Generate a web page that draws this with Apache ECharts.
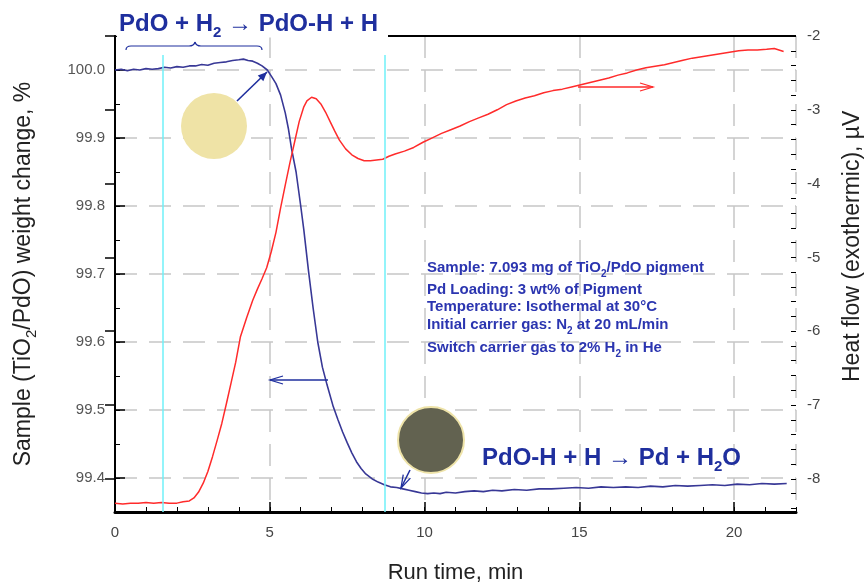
<!DOCTYPE html>
<html>
<head>
<meta charset="utf-8">
<script src="https://cdn.jsdelivr.net/npm/echarts@6/dist/echarts.min.js"></script>
<style>
  html, body { margin: 0; padding: 0; background: #fff; }
  #chart { width: 865px; height: 583px; }
</style>
</head>
<body>
<div id="chart"></div>
<script>
// axis ranges
const timeRange = [0, 22];
const weightRange = [99.35, 100.05];
const heatRange = [-8.45, -2];

// sample weight change, % (left axis)
const weightTime = [0, 0.2, 0.4, 0.6, 0.8, 1.0, 1.2, 1.4, 1.6, 1.8, 2.0, 2.2, 2.4, 2.6, 2.8, 3.0, 3.2, 3.4, 3.6, 3.8,
  4.0, 4.15, 4.3, 4.45, 4.6, 4.75, 4.92, 5.05, 5.2, 5.35, 5.5, 5.6, 5.7, 5.85, 6.0, 6.1, 6.25, 6.4, 6.55, 6.7,
  6.85, 7.05, 7.2, 7.35, 7.5, 7.65, 7.8, 7.95, 8.1, 8.3, 8.5, 8.7, 8.9, 9.1, 9.3, 9.5, 9.7, 9.9, 10.1, 10.3,
  10.5, 10.7, 11.0, 11.3, 11.6, 11.9, 12.2, 12.5, 12.9, 13.3, 13.7, 14.1, 14.5, 14.9, 15.3, 15.7, 16.1, 16.5,
  16.9, 17.3, 17.7, 18.1, 18.5, 18.9, 19.3, 19.7, 20.1, 20.5, 20.9, 21.3, 21.7];
const weightPct = [100.000, 100.001, 99.999, 100.001, 100.000, 100.002, 100.001, 100.002, 100.004, 100.003,
  100.005, 100.004, 100.006, 100.006, 100.008, 100.007, 100.010, 100.011, 100.012, 100.014,
  100.015, 100.016, 100.014, 100.013, 100.010, 100.006, 100.000, 99.991, 99.980, 99.963, 99.937, 99.914, 99.885,
  99.850, 99.800, 99.765, 99.705, 99.650, 99.600, 99.563, 99.537, 99.505, 99.486, 99.468, 99.452, 99.437, 99.424,
  99.414, 99.406, 99.399, 99.394, 99.390, 99.387, 99.386, 99.384, 99.382, 99.380, 99.378, 99.377, 99.378,
  99.377, 99.379, 99.378, 99.380, 99.381, 99.380, 99.382, 99.381, 99.383, 99.382, 99.384, 99.384, 99.385,
  99.386, 99.385, 99.387, 99.386, 99.387, 99.386, 99.388, 99.387, 99.389, 99.388, 99.389, 99.390, 99.389,
  99.391, 99.390, 99.392, 99.391, 99.392];

// heat flow (right axis)
const heatTime = [0, 0.25, 0.5, 0.75, 1.0, 1.25, 1.5, 1.75, 2.0, 2.2, 2.4, 2.55, 2.7, 2.85, 3.0, 3.15, 3.3, 3.45,
  3.6, 3.75, 3.9, 4.05, 4.25, 4.45, 4.6, 4.75, 4.9, 5.05, 5.2, 5.35, 5.5, 5.65, 5.8, 5.95, 6.1, 6.2, 6.35, 6.5,
  6.65, 6.8, 6.95, 7.1, 7.25, 7.45, 7.65, 7.85, 8.05, 8.25, 8.45, 8.65, 8.85, 9.05, 9.35, 9.65, 9.95, 10.25,
  10.55, 10.85, 11.15, 11.45, 11.75, 12.05, 12.35, 12.65, 12.95, 13.25, 13.55, 13.85, 14.15, 14.45, 14.75,
  15.05, 15.35, 15.65, 15.95, 16.25, 16.55, 16.85, 17.15, 17.45, 17.75, 18.05, 18.35, 18.65, 18.95, 19.25,
  19.55, 19.85, 20.15, 20.45, 20.75, 21.05, 21.3, 21.6];
const heatFlow = [-8.33, -8.34, -8.33, -8.33, -8.32, -8.33, -8.32, -8.33, -8.33, -8.31, -8.30, -8.26, -8.18,
  -8.06, -7.90, -7.70, -7.48, -7.25, -6.98, -6.70, -6.42, -6.08, -5.82, -5.58, -5.43, -5.29, -5.14, -4.92,
  -4.66, -4.33, -4.02, -3.72, -3.44, -3.16, -2.96, -2.88, -2.83, -2.85, -2.92, -3.03, -3.16, -3.29, -3.41,
  -3.53, -3.61, -3.66, -3.69, -3.69, -3.68, -3.67, -3.63, -3.60, -3.56, -3.51, -3.44, -3.38, -3.32, -3.27,
  -3.22, -3.16, -3.11, -3.06, -3.00, -2.93, -2.88, -2.84, -2.81, -2.77, -2.74, -2.72, -2.69, -2.66, -2.63,
  -2.60, -2.57, -2.53, -2.50, -2.46, -2.43, -2.41, -2.39, -2.36, -2.33, -2.30, -2.28, -2.26, -2.24, -2.22,
  -2.20, -2.19, -2.19, -2.18, -2.17, -2.21];

// moments the carrier gas was switched (cyan markers)
const switchTimes = [1.53, 8.7];

const infoLines = [
  'Sample: 7.093 mg of TiO{s|2}/PdO pigment',
  'Pd Loading: 3 wt% of Pigment',
  'Temperature: Isothermal at 30\u00B0C',
  'Initial carrier gas: N{s|2} at 20 mL/min',
  'Switch carrier gas to 2% H{s|2} in He'
];

const chart = echarts.init(document.getElementById('chart'), null, { renderer: 'canvas' });

const font = 'Liberation Sans, Arial, sans-serif';
const blue = '#383896';
const red = '#ff2b2b';
const ink = '#1f2f9e';
const infoInk = '#2b35b0';
const gridGray = '#c6c6c6';

// little helper for the hand-drawn annotation arrows
function arrow(x1, y1, x2, y2, color, filled) {
  const d = Math.hypot(x2 - x1, y2 - y1);
  const ux = (x2 - x1) / d, uy = (y2 - y1) / d;
  const len = filled ? 9 : 13, half = 4;
  const bx = x2 - ux * len, by = y2 - uy * len;
  const head = [[bx - uy * half, by + ux * half], [x2, y2], [bx + uy * half, by - ux * half]];
  return [
    { type: 'line', z: 20, shape: { x1, y1, x2, y2 }, style: { stroke: color, lineWidth: 1.6 } },
    filled
      ? { type: 'polygon', z: 20, shape: { points: head }, style: { fill: color } }
      : { type: 'polyline', z: 20, shape: { points: head }, style: { stroke: color, lineWidth: 1.3, fill: null } }
  ];
}

// horizontal curly brace under the first reaction
const braceStyle = { stroke: ink, lineWidth: 1.2, fill: null };
const brace = [
  { type: 'bezierCurve', shape: { x1: 126, y1: 50, cpx1: 126, cpy1: 46, x2: 131, y2: 46 } },
  { type: 'line', shape: { x1: 131, y1: 46, x2: 189, y2: 46 } },
  { type: 'bezierCurve', shape: { x1: 189, y1: 46, cpx1: 194, cpy1: 46, x2: 195, y2: 42 } },
  { type: 'bezierCurve', shape: { x1: 195, y1: 42, cpx1: 196, cpy1: 46, x2: 201, y2: 46 } },
  { type: 'line', shape: { x1: 201, y1: 46, x2: 257, y2: 46 } },
  { type: 'bezierCurve', shape: { x1: 257, y1: 46, cpx1: 262, cpy1: 46, x2: 262, y2: 50 } }
].map(el => Object.assign(el, { z: 20, style: braceStyle }));

const bigRich = {
  a: { fontSize: 24, fontWeight: 'bold', fontFamily: font, fill: ink, lineHeight: 32 },
  s: { fontSize: 15, fontWeight: 'bold', fontFamily: font, fill: ink, lineHeight: 15, verticalAlign: 'bottom' }
};
const infoRich = {
  s: { fontSize: 10, fontWeight: 'bold', fontFamily: font, fill: infoInk, lineHeight: 10, verticalAlign: 'bottom' }
};
const infoY = [268, 290, 307, 325, 348];

const graphics = [
  // top frame: hidden behind the title on the left, solid black on the right
  { type: 'line', z: 15, shape: { x1: 117, y1: 36, x2: 388, y2: 36 }, style: { stroke: '#fff', lineWidth: 3 } },
  { type: 'line', z: 20, shape: { x1: 388, y1: 36, x2: 796, y2: 36 }, style: { stroke: '#000', lineWidth: 2 } },
  {
    type: 'text', z: 20, x: 119, y: 8,
    style: { text: '{a|PdO + H}{s|2}{a| \u2192 PdO-H + H}', rich: bigRich, verticalAlign: 'top' }
  },
  ...brace,
  { type: 'circle', z: 20, shape: { cx: 214, cy: 126, r: 33 }, style: { fill: '#efe3a6' } },
  ...arrow(237, 101, 267, 72, ink, true),
  { type: 'circle', z: 20, shape: { cx: 431, cy: 440, r: 33 }, style: { fill: '#626250', stroke: '#eee3a8', lineWidth: 2 } },
  ...arrow(410, 470, 401, 488, ink, false),
  {
    type: 'text', z: 20, x: 482, y: 442,
    style: { text: '{a|PdO-H + H \u2192 Pd + H}{s|2}{a|O}', rich: bigRich, verticalAlign: 'top' }
  },
  ...infoLines.map((t, i) => ({
    type: 'text', z: 20, x: 427, y: infoY[i],
    style: {
      text: t, rich: infoRich, verticalAlign: 'middle',
      fontSize: 15, fontWeight: 'bold', fontFamily: font, fill: infoInk, lineHeight: 22
    }
  })),
  ...arrow(578, 87, 653, 87, red, false),
  ...arrow(328, 380, 270, 380, ink, false),
  {
    type: 'text', z: 20, x: 853, y: 382, rotation: Math.PI / 2,
    style: {
      text: 'Heat flow (exothermic), \u00B5V', fontSize: 23, fontFamily: font, fill: '#222',
      align: 'left', verticalAlign: 'middle'
    }
  }
];

const minorTicks = (pos, extra) => Object.assign({
  type: 'value', position: pos,
  axisLine: { show: false }, axisLabel: { show: false }, splitLine: { show: false },
  axisTick: { inside: true, length: 5, lineStyle: { color: '#000', width: 1 } }
}, extra);

const option = {
  animation: false,
  backgroundColor: '#fff',
  grid: { left: 115, right: 69, top: 36, bottom: 71, outerBoundsMode: 'none', containLabel: false },
  xAxis: [
    {
      type: 'value', position: 'bottom', min: timeRange[0], max: timeRange[1], interval: 5,
      name: 'Run time, min', nameLocation: 'middle', nameGap: 50,
      nameTextStyle: { fontSize: 22, color: '#222', fontFamily: font },
      axisLine: { lineStyle: { color: '#000', width: 3 } },
      axisTick: { inside: true, length: 10, lineStyle: { color: '#000', width: 1.5 } },
      axisLabel: { fontSize: 15, color: '#444', margin: 13, fontFamily: font, showMaxLabel: false },
      splitLine: { show: true, lineStyle: { color: gridGray, width: 1.5, type: [22, 12] } }
    },
    minorTicks('bottom', { min: timeRange[0], max: timeRange[1], interval: 1 })
  ],
  yAxis: [
    {
      type: 'value', position: 'left', min: weightRange[0], max: weightRange[1], splitNumber: 7,
      name: 'Sample (TiO{s|2}/PdO) weight change, %', nameLocation: 'middle', nameGap: 76,
      nameTextStyle: {
        fontSize: 23, color: '#222', fontFamily: font, lineHeight: 30,
        rich: { s: { fontSize: 15, color: '#222', fontFamily: font, lineHeight: 15, verticalAlign: 'bottom' } }
      },
      axisLine: { show: true, lineStyle: { color: '#000', width: 2 } },
      axisTick: { inside: true, length: 10, lineStyle: { color: '#000', width: 1.5 } },
      axisLabel: {
        fontSize: 15, color: '#555', margin: 10, fontFamily: font,
        showMinLabel: false, showMaxLabel: false, formatter: v => v.toFixed(1)
      },
      splitLine: { show: true, lineStyle: { color: gridGray, width: 1.5, type: [22, 12] } }
    },
    {
      type: 'value', position: 'right', min: heatRange[0], max: heatRange[1], splitNumber: 6,
      axisLine: { show: true, lineStyle: { color: '#000', width: 2 } },
      axisTick: { inside: true, length: 10, lineStyle: { color: '#000', width: 1.5 } },
      axisLabel: { fontSize: 15, color: '#444', margin: 11, fontFamily: font, showMinLabel: false },
      splitLine: { show: false }
    },
    minorTicks('left', { min: weightRange[0], max: weightRange[1], splitNumber: 14 }),
    minorTicks('right', { min: heatRange[0], max: heatRange[1], splitNumber: 32 })
  ],
  series: [
    {
      name: 'Weight', type: 'line', xAxisIndex: 0, yAxisIndex: 0,
      data: weightTime.map((t, i) => [t, weightPct[i]]),
      showSymbol: false, lineStyle: { color: blue, width: 1.6 },
      markLine: {
        silent: true, symbol: 'none', label: { show: false },
        lineStyle: { color: '#6ff0f8', width: 1.5, type: 'solid' },
        data: switchTimes.map(t => [{ coord: [t, 100.022] }, { coord: [t, weightRange[0]] }])
      }
    },
    {
      name: 'Heat flow', type: 'line', xAxisIndex: 0, yAxisIndex: 1,
      data: heatTime.map((t, i) => [t, heatFlow[i]]),
      showSymbol: false, lineStyle: { color: red, width: 1.5 }
    }
  ],
  graphic: graphics
};

chart.setOption(option);
</script>
</body>
</html>
